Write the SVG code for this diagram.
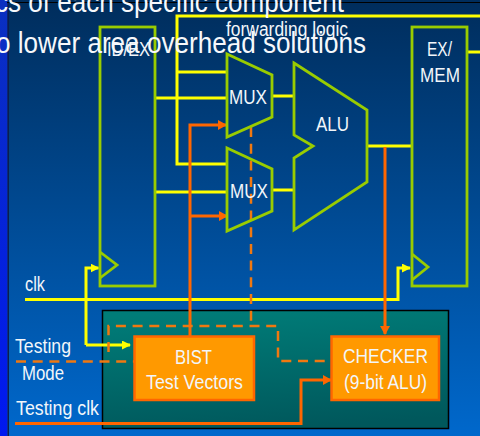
<svg xmlns="http://www.w3.org/2000/svg" width="480" height="436" viewBox="0 0 480 436">
<style>
text{font-family:"Liberation Sans",Arial,sans-serif;fill:#f2f6fa;font-size:20px}
.t{font-size:30px;fill:#f6f8fb}
.g{fill:none;stroke:#99cc00;stroke-width:2.800}
.y{fill:none;stroke:#ffff00;stroke-width:3}
.o{fill:none;stroke:#ff6600;stroke-width:3}
.d{fill:none;stroke:#f07810;stroke-width:2.500;stroke-dasharray:10 6.700}
.b{fill:#ff9900;stroke:#ff6600;stroke-width:2.500}
</style>
<defs>
<linearGradient id="bg" x1="0" y1="0" x2="0" y2="1"><stop offset="0" stop-color="#002d5c"/><stop offset="1" stop-color="#0068cc"/></linearGradient>
<linearGradient id="strip" x1="0" y1="0" x2="0" y2="1"><stop offset="0" stop-color="#0a30c0"/><stop offset="1" stop-color="#0018f0"/></linearGradient>
<linearGradient id="teal" x1="0.300" y1="0" x2="0.500" y2="1"><stop offset="0" stop-color="#007c78"/><stop offset="1" stop-color="#00585c"/></linearGradient>
<marker id="ay" markerWidth="9" markerHeight="9" refX="8" refY="4.500" orient="auto" markerUnits="userSpaceOnUse"><path d="M0 0L9 4.500L0 9z" fill="#ffff00"/></marker>
<marker id="ao" markerWidth="9" markerHeight="10" refX="8" refY="5" orient="auto" markerUnits="userSpaceOnUse"><path d="M0 0L9 5L0 10z" fill="#ff6600"/></marker>
</defs>
<rect width="480" height="436" fill="url(#bg)"/>
<rect width="7.500" height="436" fill="url(#strip)"/>
<rect x="7.500" y="2" width="1.500" height="434" fill="#0c1c50"/>
<rect x="7" y="2" width="473" height="1" fill="#000"/>
<g id="testbox"><rect x="102.500" y="310.500" width="346" height="118" fill="url(#teal)" stroke="#000" stroke-width="1.500"/></g>
<g id="connectors">
<path class="y" d="M480 16H177V164H227M177 72H227M155 98H227M155 192H227M272 96H294M272 190H294M366 146H411M467 52H480"/>
<path class="y" d="M25 299.500H398V268H410" marker-end="url(#ay)"/>
<path class="y" d="M86 345V268H98.500" marker-end="url(#ay)"/>
<path class="y" d="M86 345H130" marker-end="url(#ay)"/>
<path class="o" d="M190 336V125H226" marker-end="url(#ao)"/>
<path class="o" d="M190 216H227" marker-end="url(#ao)"/>
<path class="o" d="M385 147V334" marker-end="url(#ao)"/>
<path class="o" d="M15 423.500H301V380H331" marker-end="url(#ao)"/>
<path class="d" d="M251 127V326"/>
<path class="d" d="M108.500 352V326H278V361H331"/>
<path class="d" d="M16 361.500H134"/>
</g>
<g id="idex"><rect class="g" x="100" y="27" width="55" height="259"/><path class="g" d="M100 252L117 265L100 278"/><text x="107" y="56" textLength="43" lengthAdjust="spacingAndGlyphs">ID/EX</text></g>
<g id="exmem"><rect class="g" x="412" y="27" width="55" height="259"/><path class="g" d="M412 254L428 267L412 280"/><text x="427" y="56" textLength="25" lengthAdjust="spacingAndGlyphs">EX/</text><text x="420" y="82" textLength="40" lengthAdjust="spacingAndGlyphs">MEM</text></g>
<g id="mux1"><path class="g" d="M227 54L272 75V117L227 137Z"/><text x="229" y="104" textLength="38" lengthAdjust="spacingAndGlyphs">MUX</text></g>
<g id="mux2"><path class="g" d="M227 148L272 169V211L227 231Z"/><text x="230" y="198" textLength="38" lengthAdjust="spacingAndGlyphs">MUX</text></g>
<g id="alu"><path class="g" d="M294 63L367 110V182L294 230V158L313 146L294 135Z"/><text x="316" y="131" textLength="33" lengthAdjust="spacingAndGlyphs">ALU</text></g>
<g id="bist"><rect class="b" x="134.500" y="336.500" width="119.500" height="63.500"/><text x="175" y="364" textLength="37" lengthAdjust="spacingAndGlyphs">BIST</text><text x="146" y="389" textLength="97" lengthAdjust="spacingAndGlyphs">Test Vectors</text></g>
<g id="checker"><rect class="b" x="331.500" y="336.500" width="107.500" height="63.500"/><text x="343" y="363" textLength="85" lengthAdjust="spacingAndGlyphs">CHECKER</text><text x="344" y="389" textLength="83" lengthAdjust="spacingAndGlyphs">(9-bit ALU)</text></g>
<g id="labels">
<text x="226" y="36" textLength="122" lengthAdjust="spacingAndGlyphs">forwarding logic</text>
<text x="25" y="291" textLength="20" lengthAdjust="spacingAndGlyphs">clk</text>
<text x="15" y="353" textLength="56" lengthAdjust="spacingAndGlyphs">Testing</text>
<text x="22" y="380" textLength="42" lengthAdjust="spacingAndGlyphs">Mode</text>
<text x="16" y="415" textLength="83" lengthAdjust="spacingAndGlyphs">Testing clk</text>
</g>
<g id="title">
<text class="t" x="-5" y="12" textLength="349" lengthAdjust="spacingAndGlyphs">cs of each specific component</text>
<text class="t" x="-4" y="53" textLength="370" lengthAdjust="spacingAndGlyphs">o lower area overhead solutions</text>
</g>
</svg>
